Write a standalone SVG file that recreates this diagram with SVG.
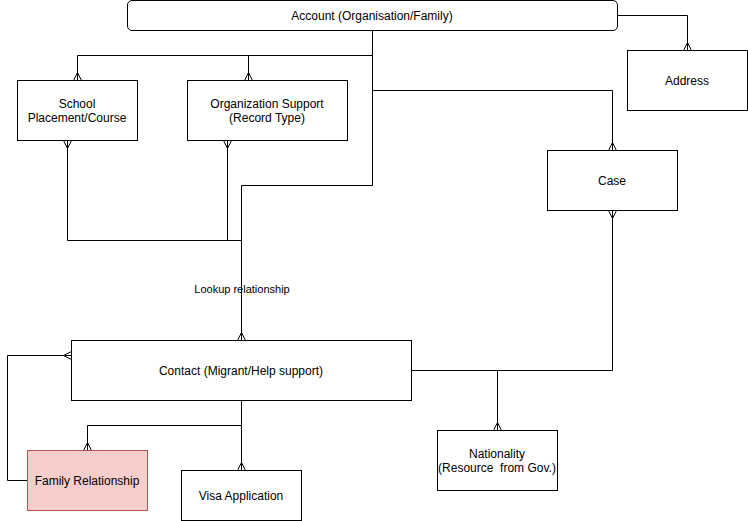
<svg xmlns="http://www.w3.org/2000/svg" width="748" height="521" viewBox="0 0 748 521">
<style>
.box{fill:#ffffff;stroke:#000000;stroke-width:1}
.pink{fill:#f8cecc;stroke:#b85450;stroke-width:1}
.t{font-family:"Liberation Sans",Arial,Helvetica,sans-serif;font-size:12px;fill:#000000;text-anchor:middle;dominant-baseline:central;white-space:pre}
.lbl{font-size:11px}
.c{fill:none;stroke:#000000;stroke-width:1;marker-end:url(#many)}
.p{fill:none;stroke:#000000;stroke-width:1}
</style>
<defs>
<marker id="many" viewBox="-10 -5 12 10" refX="0" refY="0" markerWidth="12" markerHeight="10" markerUnits="userSpaceOnUse" orient="auto" overflow="visible">
<path d="M0 -4 L-8 0 L0 4" fill="none" stroke="#000000" stroke-width="1"/>
</marker>
</defs>
<rect width="748" height="521" fill="#ffffff"/>
<g id="connectors">
<path class="c" d="M372.5 30.5 V55.5 H77.5 V80.5"/>
<path class="c" d="M248.5 55.5 V80.5"/>
<path class="c" d="M372.5 30.5 V90.5 H612.5 V150.5"/>
<path class="c" d="M617.5 15.5 H687.5 V50.5"/>
<path class="c" d="M372.5 30.5 V185.5 H241.5 V340.5"/>
<path class="c" d="M241.5 240.5 H67.5 V140.5"/>
<path class="c" d="M227.5 240.5 V140.5"/>
<path class="c" d="M411.5 370.5 H612.5 V210.5"/>
<path class="c" d="M497.5 370.5 V430.5"/>
<path class="c" d="M241.5 400.5 V470.5"/>
<path class="c" d="M241.5 425.5 H87.5 V450.5"/>
<path class="c" d="M27.5 480.5 H7.5 V355.5 H71.5"/>
<text class="t lbl" x="242" y="289">Lookup relationship</text>
</g>
<g id="account">
<rect class="box" x="127.5" y="0.5" width="490" height="30" rx="4.5" ry="4.5"/>
<text class="t" x="372" y="16">Account (Organisation/Family)</text>
</g>
<g id="school">
<rect class="box" x="17.5" y="80.5" width="120" height="60"/>
<text class="t" x="77" y="104">School</text>
<text class="t" x="77" y="118">Placement/Course</text>
</g>
<g id="orgsupport">
<rect class="box" x="187.5" y="80.5" width="160" height="60"/>
<text class="t" x="267" y="104">Organization Support</text>
<text class="t" x="267" y="118">(Record Type)</text>
</g>
<g id="address">
<rect class="box" x="627.5" y="50.5" width="120" height="60"/>
<text class="t" x="687" y="81">Address</text>
</g>
<g id="case">
<rect class="box" x="547.5" y="150.5" width="130" height="60"/>
<text class="t" x="612" y="181">Case</text>
</g>
<g id="contact">
<rect class="box" x="71.5" y="340.5" width="340" height="60"/>
<text class="t" x="241" y="371">Contact (Migrant/Help support)</text>
</g>
<g id="nationality">
<rect class="box" x="437.5" y="430.5" width="120" height="60"/>
<text class="t" x="497" y="454">Nationality</text>
<text class="t" x="497" y="468" xml:space="preserve">(Resource  from Gov.)</text>
</g>
<g id="family">
<rect class="pink" x="27.5" y="450.5" width="120" height="60"/>
<text class="t" x="87" y="481">Family Relationship</text>
</g>
<g id="visa">
<rect class="box" x="181.5" y="470.5" width="120" height="50"/>
<text class="t" x="241" y="496">Visa Application</text>
</g>
</svg>
